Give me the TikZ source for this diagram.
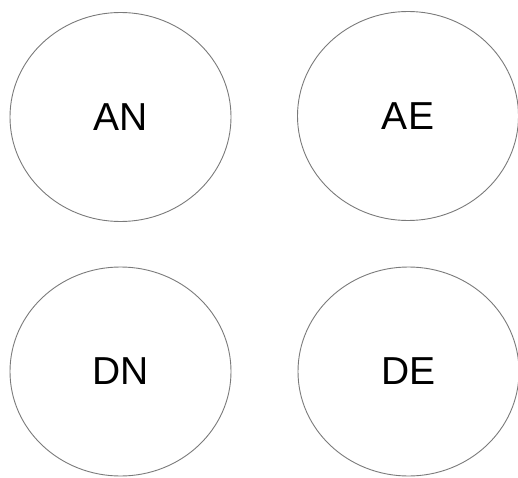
\documentclass[tikz,border=0pt]{standalone}
\usepackage{fontspec}
\setmainfont{Liberation Sans}
\usetikzlibrary{shapes.geometric}
\definecolor{ringgray}{HTML}{7A7A7A}
\begin{document}
\begin{tikzpicture}[x=1pt,y=1pt,
  state/.style={ellipse,draw=ringgray,line width=0.9pt,minimum width=221pt,minimum height=209pt,inner sep=0pt,font=\fontsize{39}{39}\selectfont}]
\useasboundingbox (0,0) rectangle (518,477);
\node[state] (AN) at (120.5,477-117) {AN};
\node[state] (AE) at (408,477-116) {AE};
\node[state] (DN) at (120.5,477-371.5) {DN};
\node[state] (DE) at (408.5,477-371.5) {DE};
\end{tikzpicture}
\end{document}
